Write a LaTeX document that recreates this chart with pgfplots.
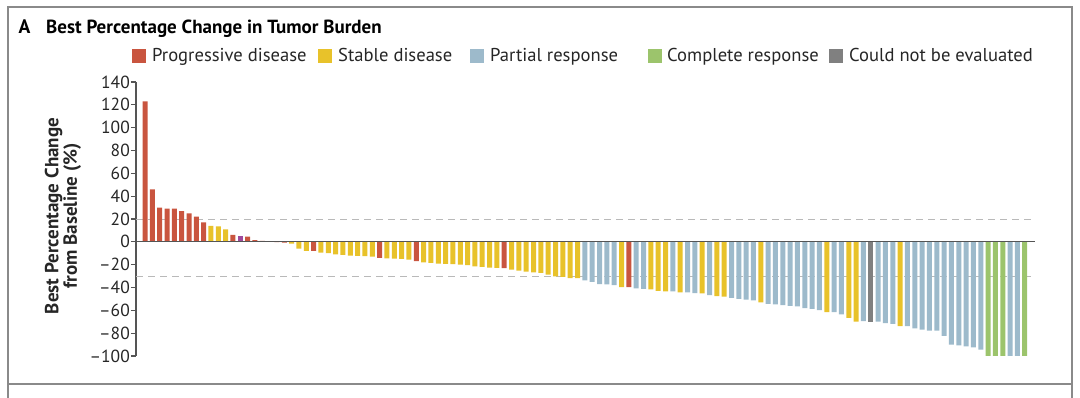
\documentclass[border=0pt]{standalone}
\usepackage{pgfplots}
\pgfplotsset{compat=1.18}
\usepackage{fontspec}
\setmainfont{PT Sans}
\definecolor{pd}{HTML}{C9553F}
\definecolor{sd}{HTML}{E8C22A}
\definecolor{pr}{HTML}{9DBACB}
\definecolor{cr}{HTML}{9CC46C}
\definecolor{ne}{HTML}{808080}
\definecolor{pu}{HTML}{9E4A9C}
\definecolor{framec}{HTML}{8A8A8A}
\definecolor{axc}{HTML}{555555}
\begin{document}
\begin{tikzpicture}[x=1pt,y=1pt]
\useasboundingbox (0,0) rectangle (1080,398);
\draw[framec, line width=1.6pt] (8,0) -- (8,391) -- (1072,391) -- (1072,0);
\draw[framec, line width=1.6pt] (8,14) -- (1072,14);
% title
\node[anchor=base west, inner sep=0pt, font=\fontsize{19.5}{22}\selectfont\bfseries] at (18.5,364.7) {A};
\node[anchor=base west, inner sep=0pt, font=\fontsize{19}{22}\selectfont\bfseries] at (46,364.7) {Best Percentage Change in Tumor Burden};
% legend
\begin{scope}[every node/.style={anchor=base west, inner sep=0pt, font=\fontsize{18.6}{22}\selectfont, text=black!85}]
\fill[pd] (132,335) rectangle (146,349); \node at (152,336) {Progressive disease};
\fill[sd] (318,335) rectangle (332,349); \node at (338,336) {Stable disease};
\fill[pr] (470,335) rectangle (484,349); \node at (490,336) {Partial response};
\fill[cr] (648,335) rectangle (662,349); \node at (667,336) {Complete response};
\fill[ne] (829,335) rectangle (843,349); \node at (849,336) {Could not be evaluated};
\end{scope}
% y label
\node[rotate=90, align=center, text=black!85, font=\fontsize{19}{18.5}\selectfont\bfseries] at (63,182) {Best Percentage Change\\from Baseline (\%)};
\begin{axis}[
  at={(136pt,42pt)}, anchor=south west, scale only axis,
  width=899pt, height=274pt,
  xmin=-0.23, xmax=122.4, ymin=-100, ymax=140,
  axis x line=none, axis y line*=left,
  y axis line style={axc, line width=1.1pt, -},
  ytick={-100,-80,-60,-40,-20,0,20,40,60,80,100,120,140},
  yticklabels={–100,–80,–60,–40,–20,0,20,40,60,80,100,120,140},
  tick align=outside, major tick length=5pt,
  ytick style={axc, line width=1.1pt},
  yticklabel style={font=\fontsize{17.5}{18}\selectfont, text=black!85, inner sep=1pt},
  clip=false,
]
\draw[gray!55, dash pattern=on 7pt off 5pt, line width=0.9pt] (axis cs:-0.23,20) -- (axis cs:122.4,20);
\draw[gray!55, dash pattern=on 7pt off 5pt, line width=0.9pt] (axis cs:-0.23,-30) -- (axis cs:122.4,-30);
% Progressive disease
\addplot[ybar, bar width=5pt, bar shift=0pt, fill=pd, draw=none] coordinates {
(1,123) (2,46) (3,30) (4,29) (5,29) (6,27) (7,25) (8,22) (9,17) (13,6) (15,4.5) (16,1.5) (17,0.8) (18,0.3) (19,-0.3) (20,-0.6)
(24,-8) (33,-14) (38,-17) (50,-23) (67,-39.6)};
% Stable disease
\addplot[ybar, bar width=5pt, bar shift=0pt, fill=sd, draw=none] coordinates {
(10,14) (11,13.5) (12,11) (21,-1.5) (22,-6) (23,-8)
(25,-9.4) (26,-10) (27,-11) (28,-11.5) (29,-12) (30,-12.3) (31,-12.6) (32,-13)
(34,-14.4) (35,-14.7) (36,-15) (37,-15.5)
(39,-18) (40,-18.5) (41,-19) (42,-19.4) (43,-19.6) (44,-20) (45,-20.5) (46,-21.4) (47,-22) (48,-22.6) (49,-22.9)
(51,-24.3) (52,-25.2) (53,-26) (54,-26.7) (55,-27.3) (56,-28.7) (57,-30.2) (58,-30.8) (59,-31.7) (60,-31.7)
(66,-39.6) (70,-41.6) (71,-43) (72,-43.4) (74,-44.3) (77,-45.2) (79,-47.5) (80,-48) (85,-53)
(94,-61.6) (97,-66.6) (98,-69.8) (104,-73.9)};
% Partial response
\addplot[ybar, bar width=5pt, bar shift=0pt, fill=pr, draw=none] coordinates {
(61,-33.7) (62,-35) (63,-37) (64,-37.2) (65,-38) (68,-40.8) (69,-41.3) (73,-43.4) (75,-44.3) (76,-44.9) (78,-46.6)
(81,-49) (82,-49.9) (83,-50.7) (84,-51.3) (86,-54.3) (87,-54.8) (88,-55.4) (89,-56) (90,-56.6) (91,-58) (92,-58.7) (93,-59.8)
(95,-61.6) (96,-63.6) (99,-69.5) (101,-70) (102,-71.3) (103,-71.8)
(105,-73.9) (106,-75.7) (107,-77) (108,-77.7) (109,-77.7) (110,-82.4) (111,-90) (112,-90.6) (113,-91.5) (114,-92.4) (115,-94.4)
(119,-100) (120,-100)};
% Complete response
\addplot[ybar, bar width=5pt, bar shift=0pt, fill=cr, draw=none] coordinates {
(116,-100) (117,-100) (118,-100) (121,-100)};
% Could not be evaluated
\addplot[ybar, bar width=5pt, bar shift=0pt, fill=ne, draw=none] coordinates {(100,-69.8)};
% unlabelled purple bar
\addplot[ybar, bar width=5pt, bar shift=0pt, fill=pu, draw=none] coordinates {(14,5)};
\draw[axc, line width=1.1pt] (axis cs:-0.23,0) -- (axis cs:122.4,0);
\end{axis}
\end{tikzpicture}
\end{document}
